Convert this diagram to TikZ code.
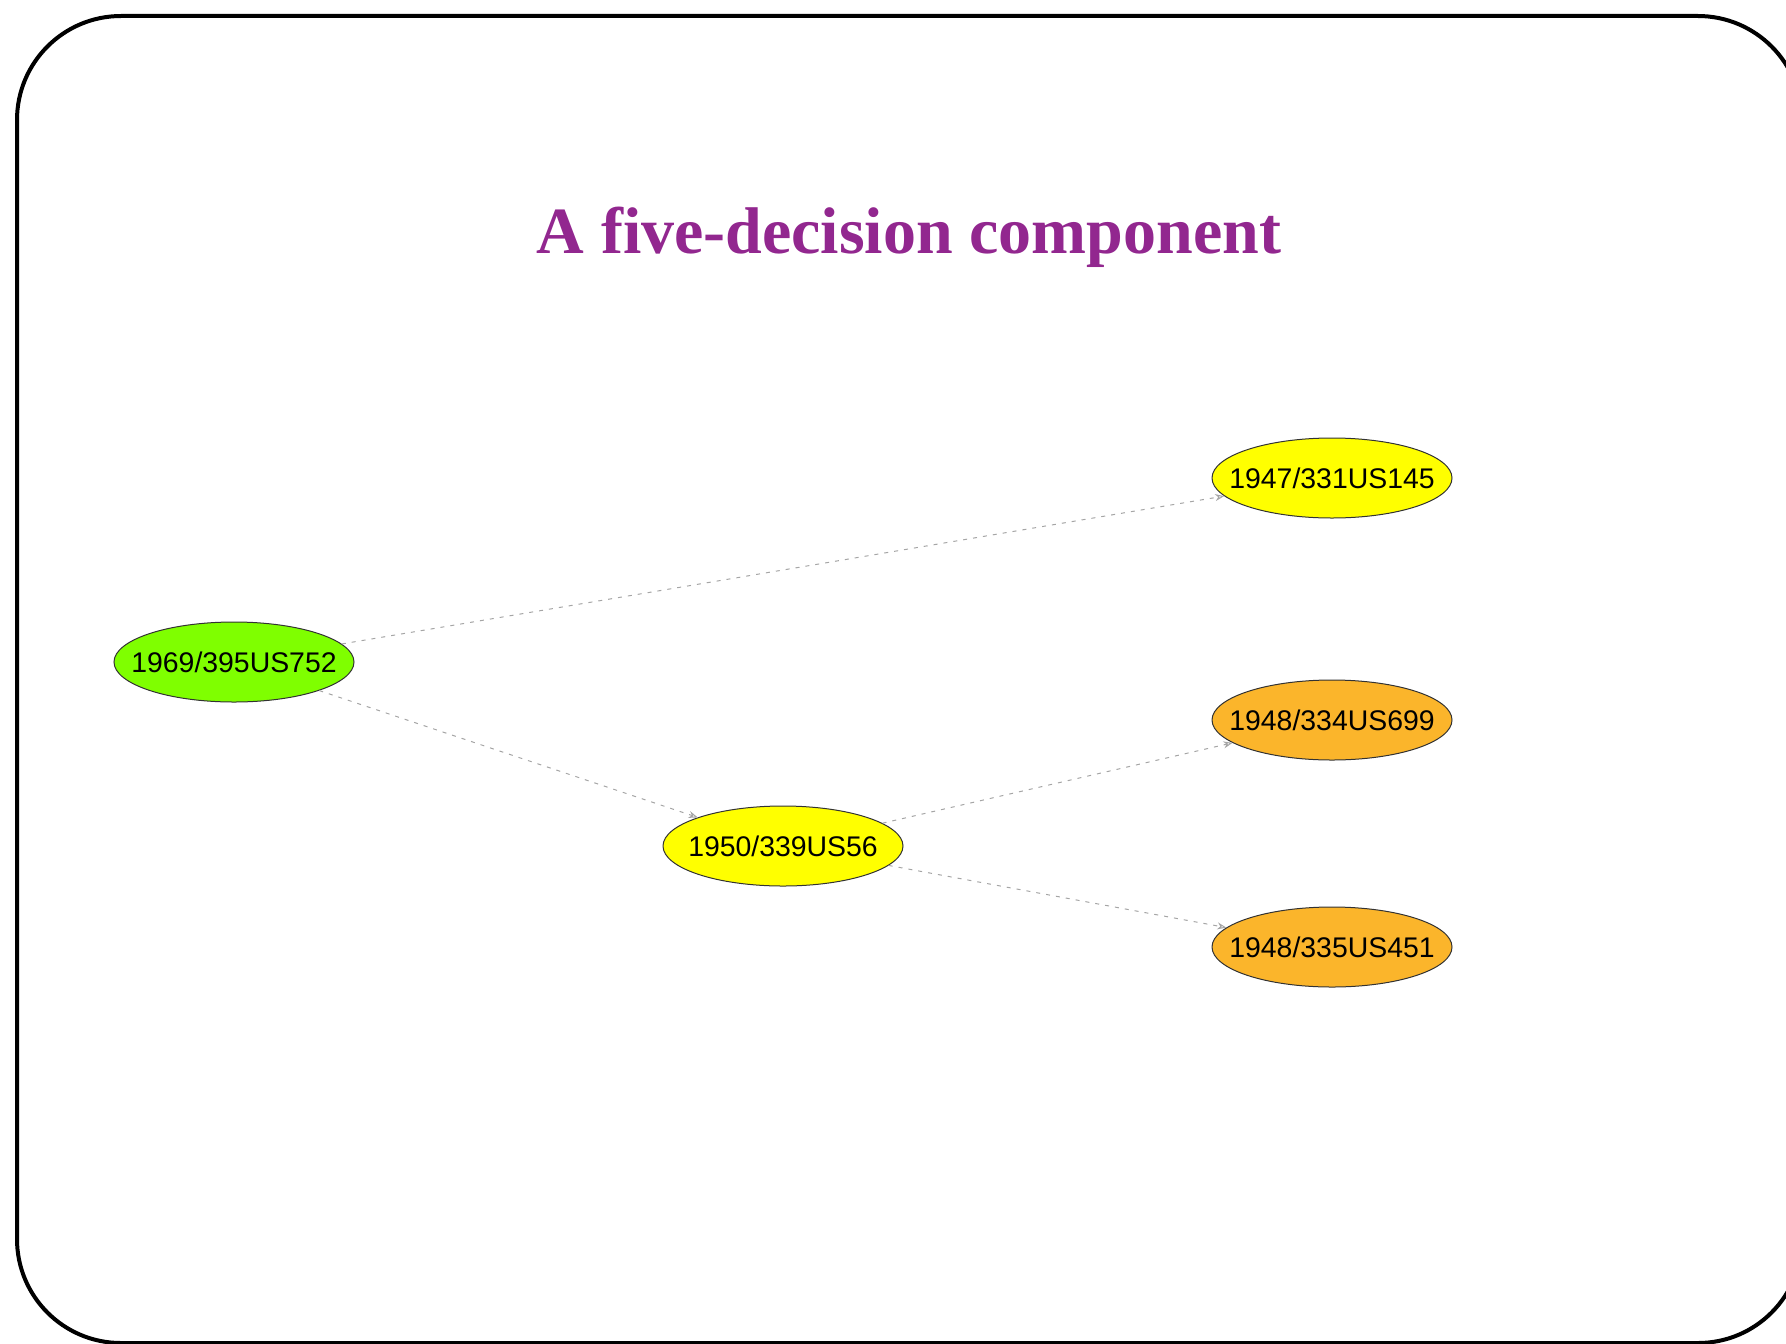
\documentclass[tikz,border=0pt]{standalone}
\usepackage{fontspec}
\setmainfont{Liberation Serif}
\setsansfont{Liberation Sans}
\usetikzlibrary{shapes.geometric,arrows.meta}

\definecolor{titlepurple}{RGB}{146,39,143}
\definecolor{leafgreen}{RGB}{127,255,0}
\definecolor{caseyellow}{RGB}{255,255,0}
\definecolor{caseorange}{RGB}{251,181,43}
\definecolor{edgegrey}{RGB}{165,165,165}
\definecolor{rimgrey}{RGB}{50,50,50}

\tikzset{
  decision/.style={ellipse, draw=rimgrey, line width=0.5pt,
    inner xsep=-9pt, inner ysep=0pt,
    minimum width=120pt, minimum height=40pt,
    font=\sffamily\fontsize{14.2}{14.2}\selectfont, text=black},
  cites/.style={draw=edgegrey, line width=0.5pt, dash pattern=on 2pt off 3pt,
    -{Stealth[length=4.5pt,width=3.5pt,open]}},
  frame/.style={draw=black, line width=2pt, rounded corners=52pt},
}

\begin{document}
\begin{tikzpicture}[x=0.5pt,y=-0.5pt]
  \useasboundingbox (0,0) rectangle (1786,1343);
  % slide frame, running off the right and bottom edges
  \draw[frame] (17,16) rectangle (1802,1343);

  % heading
  \node[anchor=base, font=\rmfamily\bfseries\fontsize{33}{33}\selectfont,
        text=titlepurple, inner sep=0pt] (title) at (909,253)
        {A five-decision component};

  % decisions
  \node[decision, fill=leafgreen]   (d1969) at (234,662)   {1969/395US752};
  \node[decision, fill=caseyellow]  (d1950) at (783,846)   {1950/339US56};
  \node[decision, fill=caseyellow]  (d1947) at (1332,478)  {1947/331US145};
  \node[decision, fill=caseorange]  (d699)  at (1332,720)  {1948/334US699};
  \node[decision, fill=caseorange]  (d451)  at (1332,947)  {1948/335US451};

  % citations
  \draw[cites] (d1969) -- (d1947);
  \draw[cites] (d1969) -- (d1950);
  \draw[cites] (d1950) -- (d699);
  \draw[cites] (d1950) -- (d451);
\end{tikzpicture}
\end{document}
